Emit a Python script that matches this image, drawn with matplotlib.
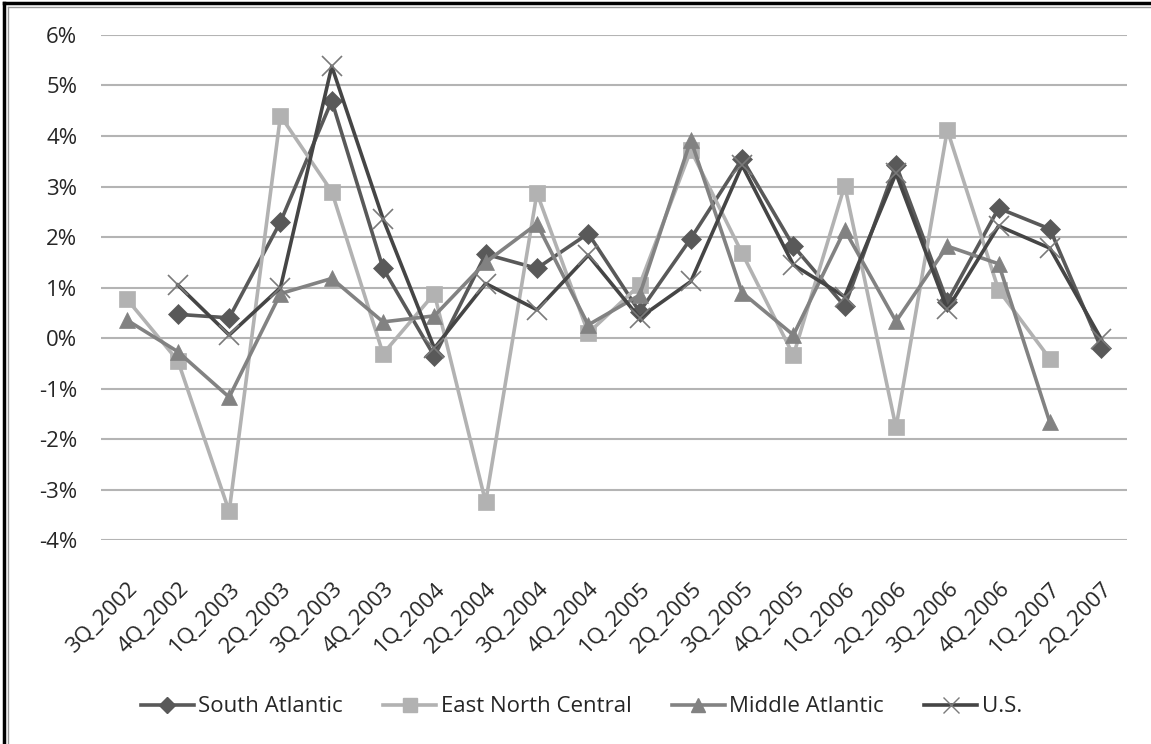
import matplotlib.pyplot as plt
from matplotlib.lines import Line2D
from matplotlib.ticker import FuncFormatter
import numpy as np

quarters = ['3Q_2002', '4Q_2002', '1Q_2003', '2Q_2003', '3Q_2003', '4Q_2003',
            '1Q_2004', '2Q_2004', '3Q_2004', '4Q_2004', '1Q_2005', '2Q_2005',
            '3Q_2005', '4Q_2005', '1Q_2006', '2Q_2006', '3Q_2006', '4Q_2006',
            '1Q_2007', '2Q_2007']

nan = np.nan
south_atlantic = [nan, 0.47, 0.40, 2.30, 4.70, 1.38, -0.36, 1.66, 1.38, 2.07,
                  0.52, 1.97, 3.55, 1.82, 0.63, 3.43, 0.72, 2.57, 2.16, -0.20]
east_north_central = [0.78, -0.45, -3.43, 4.40, 2.90, -0.31, 0.88, -3.25, 2.87, 0.10,
                      1.05, 3.72, 1.68, -0.34, 3.02, -1.77, 4.12, 0.95, -0.41, nan]
middle_atlantic = [0.36, -0.27, -1.17, 0.88, 1.18, 0.32, 0.44, 1.50, 2.26, 0.26,
                   0.85, 3.92, 0.90, 0.06, 2.14, 0.33, 1.82, 1.47, -1.67, nan]
us = [nan, 1.05, 0.06, 1.00, 5.38, 2.36, -0.20, 1.08, 0.56, 1.64,
      0.40, 1.12, 3.42, 1.45, 0.82, 3.26, 0.57, 2.22, 1.78, -0.02]

# name, values, line colour, marker colour, marker, marker size
series = [
    ('South Atlantic', south_atlantic, '#595959', '#595959', 'D', 10),
    ('East North Central', east_north_central, '#b2b2b2', '#b2b2b2', 's', 12),
    ('Middle Atlantic', middle_atlantic, '#828282', '#828282', '^', 12),
    ('U.S.', us, '#454545', '#7a7a7a', 'x', 14),
]

plt.rcParams['font.family'] = ['Open Sans', 'DejaVu Sans']
fs = 16

fig = plt.figure(figsize=(11.51, 7.44), dpi=100)
ax = fig.add_axes([0.0877, 0.274, 0.8913, 0.679])

x = np.arange(len(quarters))
for name, vals, col, mcol, mk, ms in series:
    ax.plot(x, vals, color=col, lw=2.6, marker=mk, markersize=ms,
            markerfacecolor=mcol, markeredgecolor=mcol,
            markeredgewidth=1.2 if mk == 'x' else 0.5, label=name, zorder=3)

ax.set_ylim(-4, 6)
ax.set_xlim(-0.5, len(quarters) - 0.5)
ax.set_yticks(range(-4, 7))
ax.yaxis.set_major_formatter(FuncFormatter(lambda v, p: f'{int(v)}%'))
ax.grid(axis='y', color='#b4b4b4', lw=1.5, zorder=0)
ax.set_xticks(x)
ax.set_xticklabels(quarters, rotation=45, ha='right', rotation_mode='anchor')
ax.tick_params(axis='both', length=0, labelsize=fs, labelcolor='#262626')
ax.tick_params(axis='y', pad=17)
ax.tick_params(axis='x', pad=27)
for s in ax.spines.values():
    s.set_visible(False)

handles = [Line2D([0], [0], color=col, lw=2.6, marker=mk, markersize=ms * 0.8,
                  markerfacecolor=mcol, markeredgecolor=mcol)
           for name, vals, col, mcol, mk, ms in series]
fig.legend(handles, [s[0] for s in series], loc='center', bbox_to_anchor=(0.505, 0.05),
           ncol=4, frameon=False, fontsize=fs, handlelength=2.4, handletextpad=0.2,
           columnspacing=1.8, labelcolor='#262626')

# outer frame of the pasted chart
fig.add_artist(Line2D([0.0035, 0.0035], [0, 0.996], transform=fig.transFigure, color='black', lw=2.5))
fig.add_artist(Line2D([0.0035, 1], [0.996, 0.996], transform=fig.transFigure, color='black', lw=2.5))
fig.add_artist(Line2D([0.0068, 0.0068], [0, 0.991], transform=fig.transFigure, color='#999999', lw=1))
fig.add_artist(Line2D([0.0068, 1], [0.991, 0.991], transform=fig.transFigure, color='#999999', lw=1))

fig.savefig('out.png', dpi=100)
